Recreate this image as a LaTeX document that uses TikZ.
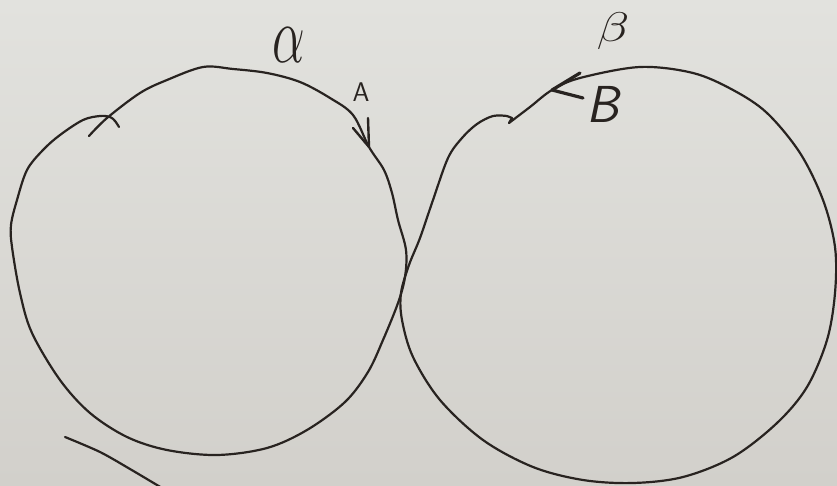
\documentclass[tikz,border=0pt]{standalone}
\usepackage{graphicx}
\definecolor{ink}{RGB}{40,35,32}
\definecolor{paperT}{RGB}{226,226,222}
\definecolor{paperB}{RGB}{210,208,203}
\tikzset{
  stroke/.style={draw=ink, line width=2.2pt, line cap=round, line join=round},
  barb/.style={draw=ink, line width=2.4pt, line cap=round, line join=round},
  lbl/.style={text=ink, inner sep=0pt}
}
\begin{document}
\begin{tikzpicture}[x=1pt,y=-1pt]
\useasboundingbox (0,0) rectangle (837,486);
\shade[top color=paperT, bottom color=paperB] (0,0) rectangle (837,486);

% left loop (alpha)
\draw[stroke] plot[smooth, tension=0.55] coordinates {
 (89,136) (107,118) (140,93) (167,80) (203,67) (233,69) (267,73) (300,82) (330,98)
 (353,115) (369,147) (384,170) (392,193) (398,220) (406,250) (405,277) (398,303)
 (383,340) (368,372) (345,402) (307,430) (267,448) (217,455) (167,450) (127,437)
 (90,413) (60,380) (32,333) (20,293) (12,247) (11,225) (17,200) (27,170) (43,150)
 (60,135) (83,120) (100,116) (110,117) (115,121) (119,127)};
% arrow A
\coordinate (tipA) at (369,147);
\draw[barb] (353,128) -- (tipA) -- (368,118);

% right loop (beta)
\draw[stroke] plot[smooth, tension=0.55] coordinates {
 (509,123) (530,107) (552,90) (580,78) (640,67) (693,73) (733,90) (767,113)
 (800,153) (823,200) (835,247) (835,293) (827,340) (807,387) (777,423) (733,457)
 (683,477) (633,483) (583,480) (533,467) (483,440) (440,400) (413,357) (402,320)
 (401,293) (409,265) (420,238) (433,200) (448,158) (462,138) (477,124) (493,116)
 (507,116)};
\draw[stroke] (507,116) -- (512,118) -- (509,123);
% arrow B
\coordinate (tipB) at (552,90);
\draw[barb, line width=3.2pt] (580,73) -- (tipB) -- (583,98);

% stray stroke bottom left
\draw[stroke] plot[smooth, tension=0.5] coordinates {(65,437) (100,452) (130,469) (162,488)};

% labels
\node[lbl] (alpha) at (289,45) {\scalebox{2.5}[3.9]{\fontsize{20}{20}\selectfont$\alpha$}};
\node[lbl] (A) at (361,92) {\fontsize{27}{27}\selectfont\sffamily A};
\node[lbl] (beta) at (613,31) {\scalebox{2.6}[2.0]{\fontsize{20}{20}\selectfont$\beta$}};
\node[lbl] (B) at (603,104) {\fontsize{52}{52}\selectfont\sffamily\slshape B};
\end{tikzpicture}
\end{document}
